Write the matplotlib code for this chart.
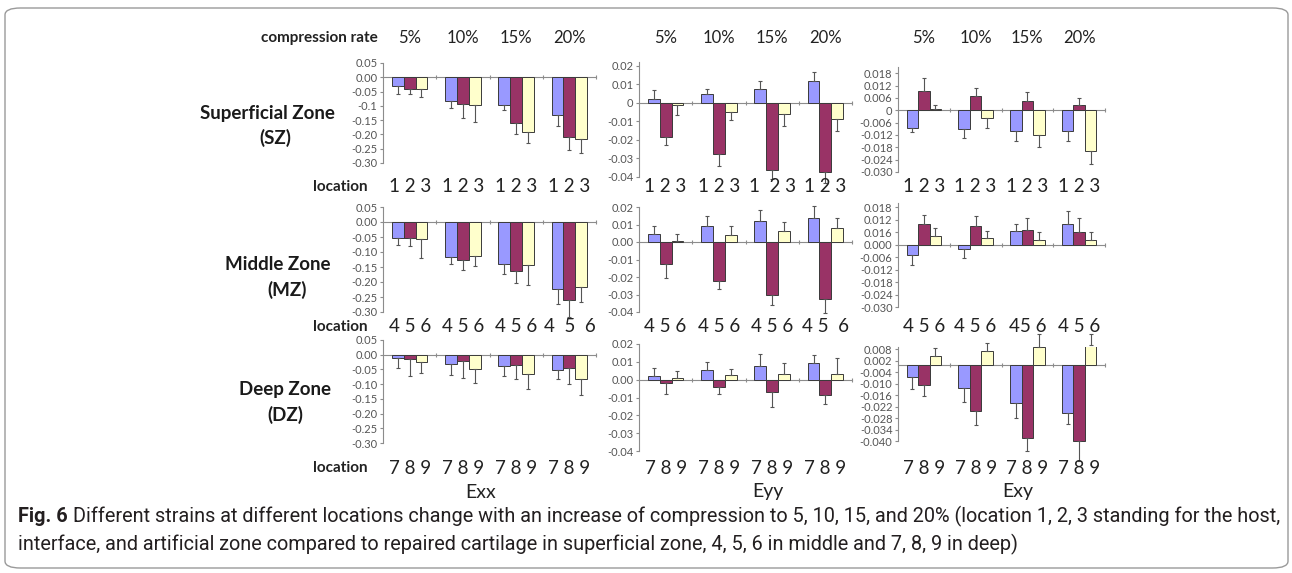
import matplotlib
matplotlib.use("Agg")
import matplotlib.pyplot as plt
from matplotlib.patches import FancyBboxPatch

plt.rcParams['font.family'] = ['Lato', 'DejaVu Sans']

W, H = 1292, 573

# labels
rates = ['5%', '10%', '15%', '20%']
zone_names = ['Superficial Zone', 'Middle Zone', 'Deep Zone']
zone_abbr = ['(SZ)', '(MZ)', '(DZ)']
strain_names = ['Exx', 'Eyy', 'Exy']
loc_text = [
    [['1 2 3'] * 4, ['1 2 3', '1 2 3', '1  2 3', '1 2 3'], ['1 2 3'] * 4],
    [['4 5 6', '4 5 6', '4 5 6', '4  5  6'], ['4 5 6', '4 5 6', '4 5 6', '4 5  6'], ['4 5 6', '4 5 6', '45 6', '4 5 6']],
    [['7 8 9'] * 4, ['7 8 9'] * 4, ['7 8 9'] * 4],
]

# superficial zone, locations 1 2 3 (rows) at 5/10/15/20 % (columns)
sz_exx = [[-0.030, -0.083, -0.097, -0.133], [-0.040, -0.093, -0.161, -0.210], [-0.040, -0.097, -0.190, -0.217]]
sz_exx_err = [[0.029, 0.023, 0.018, 0.036], [0.020, 0.048, 0.038, 0.045], [0.030, 0.058, 0.041, 0.047]]
sz_eyy = [[0.002, 0.005, 0.0076, 0.0115], [-0.0184, -0.0274, -0.0364, -0.0375], [-0.0013, -0.0051, -0.0060, -0.0087]]
sz_eyy_err = [[0.005, 0.0027, 0.0043, 0.0053], [0.0045, 0.0068, 0.0047, 0.0055], [0.0054, 0.0040, 0.0066, 0.0063]]
sz_exy = [[-0.0087, -0.0091, -0.0103, -0.0103], [0.0095, 0.0068, 0.0047, 0.0027], [0.0007, -0.0039, -0.0118, -0.0200]]
sz_exy_err = [[0.0020, 0.0046, 0.0047, 0.0047], [0.0060, 0.0040, 0.0040, 0.0033], [0.0020, 0.0047, 0.0060, 0.0060]]

# middle zone, locations 4 5 6
mz_exx = [[-0.053, -0.117, -0.141, -0.224], [-0.053, -0.125, -0.162, -0.261], [-0.055, -0.113, -0.144, -0.217]]
mz_exx_err = [[0.025, 0.022, 0.031, 0.050], [0.028, 0.036, 0.042, 0.056], [0.065, 0.035, 0.067, 0.050]]
mz_eyy = [[0.0047, 0.0089, 0.0118, 0.0137], [-0.0124, -0.0225, -0.0301, -0.0324], [0.0008, 0.0040, 0.0061, 0.0080]]
mz_eyy_err = [[0.0046, 0.0057, 0.0067, 0.0070], [0.0082, 0.0044, 0.0061, 0.0082], [0.0040, 0.0053, 0.0051, 0.0057]]
mz_exy = [[-0.0048, -0.0019, 0.0063, 0.0099], [0.0101, 0.0088, 0.0069, 0.0060], [0.0040, 0.0032, 0.0023, 0.0023]]
mz_exy_err = [[0.0050, 0.0045, 0.0036, 0.0064], [0.0039, 0.0051, 0.0059, 0.0067], [0.0039, 0.0035, 0.0037, 0.0037]]

# deep zone, locations 7 8 9
dz_exx = [[-0.011, -0.031, -0.040, -0.053], [-0.015, -0.023, -0.034, -0.044], [-0.026, -0.048, -0.065, -0.083]]
dz_exx_err = [[0.034, 0.037, 0.034, 0.030], [0.056, 0.055, 0.048, 0.055], [0.036, 0.048, 0.052, 0.053]]
dz_eyy = [[0.0022, 0.0052, 0.0074, 0.0093], [-0.0019, -0.0041, -0.0067, -0.0086], [0.0011, 0.0028, 0.0032, 0.0034]]
dz_eyy_err = [[0.0045, 0.0045, 0.0070, 0.0048], [0.0060, 0.0037, 0.0086, 0.0050], [0.0040, 0.0032, 0.0060, 0.0087]]
dz_exy = [[-0.0064, -0.0121, -0.0201, -0.0252], [-0.0104, -0.0243, -0.0382, -0.0399], [0.0045, 0.0069, 0.0092, 0.0104]]
dz_exy_err = [[0.0060, 0.0073, 0.0077, 0.0058], [0.0059, 0.0069, 0.0069, 0.0104], [0.0040, 0.0046, 0.0067, 0.0057]]

values = [[sz_exx, sz_eyy, sz_exy], [mz_exx, mz_eyy, mz_exy], [dz_exx, dz_eyy, dz_exy]]
errors = [[sz_exx_err, sz_eyy_err, sz_exy_err], [mz_exx_err, mz_eyy_err, mz_exy_err], [dz_exx_err, dz_eyy_err, dz_exy_err]]

# y ticks of every panel (labels copied as printed, typo included)
exx_ticks = [0.05, 0.0, -0.05, -0.10, -0.15, -0.20, -0.25, -0.30]
eyy_ticks = [0.02, 0.01, 0.0, -0.01, -0.02, -0.03, -0.04]
exy_ticks = [0.018, 0.012, 0.006, 0.0, -0.006, -0.012, -0.018, -0.024, -0.030]
exy_ticks_dz = [0.008, 0.002, -0.004, -0.010, -0.016, -0.022, -0.028, -0.034, -0.040]
tick_labels = [
    [['0.05', '0.00', '-0.05', '-0.1', '-0.15', '-0.20', '-0.25', '-0.30'],
     ['0.02', '0.01', '0', '-0.01', '-0.02', '-0.03', '-0.04'],
     ['0.018', '0.012', '0.006', '0', '-0.006', '-0.012', '-0.018', '-0.024', '-0.030']],
    [['0.05', '0.00', '-0.05', '-0.10', '-0.15', '-0.20', '-0.25', '-0.30'],
     ['0.02', '0.01', '0.00', '-0.01', '-0.02', '-0.03', '-0.04'],
     ['0.018', '0.012', '0.016', '0.000', '-0.006', '-0.012', '-0.018', '-0.024', '-0.030']],
    [['0.05', '0.00', '-0.05', '-0.10', '-0.15', '-0.20', '-0.25', '-0.30'],
     ['0.02', '0.01', '0.00', '-0.01', '-0.02', '-0.03', '-0.04'],
     ['0.008', '0.002', '-0.004', '-0.010', '-0.016', '-0.022', '-0.028', '-0.034', '-0.040']],
]
tick_values = [[exx_ticks, eyy_ticks, exy_ticks], [exx_ticks, eyy_ticks, exy_ticks], [exx_ticks, eyy_ticks, exy_ticks_dz]]

# layout in pixels: column x ranges, and per panel (ylim lo, ylim hi, pixel of lo, pixel of hi)
col_px = [(383, 596), (639, 852), (898, 1105)]
panel_px = [
    [(-0.30, 0.05, 163, 63), (-0.04, 0.022, 177, 62), (-0.030, 0.021, 172, 67)],
    [(-0.30, 0.05, 312, 207), (-0.04, 0.02, 312, 207), (-0.030, 0.020, 307, 203)],
    [(-0.30, 0.05, 443, 340), (-0.04, 0.02, 451, 344), (-0.040, 0.0095, 441.5, 346.5)],
]
row_label_y = [187, 327, 468]
zone_y = [(113, 138), (265, 290), (390, 415)]
zone_x = [(267, 275), (278, 287), (285, 285)]
strain_x = [481, 768, 1018]

bar_colors = ['#9999FF', '#993366', '#FFFFCC']
bw = 0.222

fig = plt.figure(figsize=(W / 100, H / 100), dpi=100)


def fx(x):
    return x / W


def fy(y):
    return 1 - y / H


for r in range(3):
    for c in range(3):
        x0, x1 = col_px[c]
        lo, hi, plo, phi = panel_px[r][c]
        ax = fig.add_axes([fx(x0), fy(plo), (x1 - x0) / W, (plo - phi) / H])
        ax.set_xlim(-0.5, 3.5)
        ax.set_ylim(lo, hi)

        for k in range(3):
            xs = [g + (k - 1) * bw for g in range(4)]
            v = values[r][c][k]
            e = errors[r][c][k]
            ax.bar(xs, v, width=bw, color=bar_colors[k], edgecolor='#3a3a3a', linewidth=0.7, zorder=2)
            lower = [ee if vv < 0 else 0 for vv, ee in zip(v, e)]
            upper = [ee if vv >= 0 else 0 for vv, ee in zip(v, e)]
            cont = ax.errorbar(xs, v, yerr=[lower, upper], fmt='none', ecolor='#555555',
                               elinewidth=0.8, capsize=1.2, capthick=0.8, zorder=3)
            for art in list(cont[1]) + list(cont[2]):
                art.set_clip_on(False)

        for s in ['top', 'right']:
            ax.spines[s].set_visible(False)
        ax.spines['bottom'].set_position(('data', 0))
        ax.spines['bottom'].set_color('#8c8c8c')
        ax.spines['left'].set_color('#8c8c8c')
        ax.spines['bottom'].set_zorder(1)
        ax.set_xticks([0.5, 1.5, 2.5, 3.5])
        ax.set_xticklabels([])
        ax.tick_params(axis='x', length=2.5, direction='inout', color='#8c8c8c')
        ax.set_yticks(tick_values[r][c])
        ax.set_yticklabels(tick_labels[r][c])
        ax.tick_params(axis='y', length=2.5, color='#8c8c8c', labelsize=8, labelcolor='#555555', pad=1.5)
        ax.patch.set_alpha(0)

        # location numbers under each group
        gw = (x1 - x0) / 4
        for g in range(4):
            fig.text(fx(x0 + (g + 0.5) * gw), fy(row_label_y[r]), loc_text[r][c][g],
                     ha='center', va='center', fontsize=13.5, color='#222222')
            if r == 0:
                fig.text(fx(x0 + (g + 0.5) * gw), fy(38), rates[g],
                         ha='center', va='center', fontsize=12, color='#222222')

    fig.text(fx(368), fy(row_label_y[r]), 'location', ha='right', va='center',
             fontsize=11, fontweight='bold', color='#222222')
    fig.text(fx(zone_x[r][0]), fy(zone_y[r][0]), zone_names[r], ha='center', va='center',
             fontsize=13.5, fontweight='bold', color='#1a1a1a')
    fig.text(fx(zone_x[r][1]), fy(zone_y[r][1]), zone_abbr[r], ha='center', va='center',
             fontsize=13.5, fontweight='bold', color='#1a1a1a')

fig.text(fx(378), fy(38), 'compression rate', ha='right', va='center',
         fontsize=11, fontweight='bold', color='#222222')

for c in range(3):
    fig.text(fx(strain_x[c]), fy(492), strain_names[c], ha='center', va='center',
             fontsize=14, color='#222222')

# caption, font size fitted so the first line ends near the right frame
cap_font = ['Roboto', 'DejaVu Sans']
cap1 = ('Different strains at different locations change with an increase of compression to 5, 10, 15, '
        'and 20% (location 1, 2, 3 standing for the host,')
cap2 = ('interface, and artificial zone compared to repaired cartilage in superficial zone, '
        '4, 5, 6 in middle and 7, 8, 9 in deep)')
cap_size = 13
t_bold = fig.text(fx(18), fy(522), 'Fig. 6', family=cap_font, fontsize=cap_size, fontweight='bold',
                  color='#231f20', va='baseline')
t1 = fig.text(fx(80), fy(522), cap1, family=cap_font, fontsize=cap_size, color='#231f20', va='baseline')
t2 = fig.text(fx(18), fy(550), cap2, family=cap_font, fontsize=cap_size, color='#231f20', va='baseline')

renderer = fig.canvas.get_renderer()
w_bold = t_bold.get_window_extent(renderer).width
w_line = t1.get_window_extent(renderer).width
cap_size = cap_size * (1280 - 18 - 5) / (w_bold + w_line)
for tt in (t_bold, t1, t2):
    tt.set_fontsize(cap_size)
bb = t_bold.get_window_extent(renderer)
t1.set_x((bb.x1 + 5) / W)

# rounded frame around the whole figure
frame = FancyBboxPatch((fx(5), fy(568)), fx(1283), (568 - 8) / H,
                       boxstyle='round,pad=0,rounding_size=0.012',
                       transform=fig.transFigure, fill=False, edgecolor='#9a9a9a', linewidth=1.0)
fig.patches.append(frame)

fig.savefig('out.png', dpi=100)
